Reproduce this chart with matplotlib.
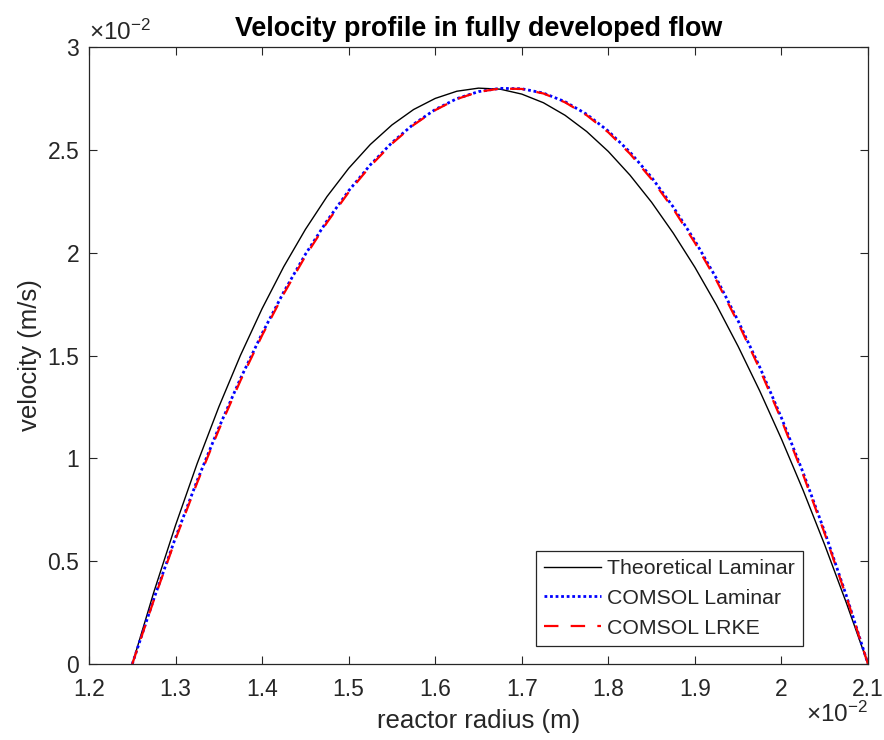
import matplotlib
matplotlib.use("Agg")
import matplotlib.pyplot as plt
from matplotlib.ticker import FuncFormatter, MultipleLocator

# ---- data (radius in m, velocity in m/s) ----
r_theory = [0.01250, 0.01275, 0.01300, 0.01325, 0.01350, 0.01375, 0.01400, 0.01425,
            0.01450, 0.01475, 0.01500, 0.01525, 0.01550, 0.01575, 0.01600, 0.01625,
            0.01650, 0.01675, 0.01700, 0.01725, 0.01750, 0.01775, 0.01800, 0.01825,
            0.01850, 0.01875, 0.01900, 0.01925, 0.01950, 0.01975, 0.02000, 0.02025,
            0.02050, 0.02075, 0.02100]
u_theory = [0.0, 0.351, 0.675, 0.975, 1.250, 1.501, 1.728, 1.932,
            2.113, 2.273, 2.410, 2.526, 2.621, 2.696, 2.750, 2.785,
            2.800, 2.795, 2.771, 2.729, 2.668, 2.589, 2.492, 2.377,
            2.245, 2.095, 1.929, 1.745, 1.544, 1.327, 1.094, 0.845,
            0.579, 0.297, 0.0]
u_theory = [v * 1e-2 for v in u_theory]

r_comsol = r_theory
u_comsol_laminar = [0.0, 0.318, 0.615, 0.892, 1.149, 1.388, 1.607, 1.809,
                    1.992, 2.155, 2.301, 2.427, 2.535, 2.625, 2.696, 2.749,
                    2.783, 2.799, 2.797, 2.776, 2.734, 2.673, 2.591, 2.489,
                    2.366, 2.222, 2.058, 1.874, 1.668, 1.443, 1.197, 0.931,
                    0.642, 0.332, 0.0]
u_comsol_laminar = [v * 1e-2 for v in u_comsol_laminar]
u_comsol_lrke = [0.0, 0.312, 0.607, 0.882, 1.139, 1.378, 1.598, 1.800,
                 1.983, 2.147, 2.294, 2.421, 2.530, 2.621, 2.693, 2.747,
                 2.782, 2.798, 2.796, 2.774, 2.731, 2.668, 2.585, 2.481,
                 2.357, 2.213, 2.048, 1.864, 1.658, 1.433, 1.187, 0.921,
                 0.634, 0.327, 0.0]
u_comsol_lrke = [v * 1e-2 for v in u_comsol_lrke]

labels = ["Theoretical Laminar", "COMSOL Laminar", "COMSOL LRKE"]
title = "Velocity profile in fully developed flow"
xlabel = "reactor radius (m)"
ylabel = "velocity (m/s)"

# ---- style ----
plt.rcParams['font.family'] = ['Liberation Sans', 'DejaVu Sans']
plt.rcParams['mathtext.fontset'] = 'custom'
plt.rcParams['mathtext.rm'] = 'Liberation Sans'
plt.rcParams['mathtext.it'] = 'Liberation Sans:italic'
plt.rcParams['mathtext.bf'] = 'Liberation Sans:bold'

axc = (0.15, 0.15, 0.15)
W, H = 884, 740
fig = plt.figure(figsize=(W / 100, H / 100), dpi=100)
L, R, T, B = 89, 868, 47, 664
ax = fig.add_axes([L / W, 1 - B / H, (R - L) / W, (B - T) / H])

ax.plot(r_theory, u_theory, color='k', lw=1.0, label=labels[0])
ax.plot(r_comsol, u_comsol_laminar, color=(0, 0, 1), lw=2.0, linestyle=(0, (1, 1)),
        label=labels[1])
ax.plot(r_comsol, u_comsol_lrke, color=(1, 0, 0), lw=1.6, linestyle=(0, (6.5, 5.5)),
        label=labels[2])

ax.set_xlim(0.012, 0.021)
ax.set_ylim(0, 0.03)
ax.xaxis.set_major_locator(MultipleLocator(0.001))
ax.yaxis.set_major_locator(MultipleLocator(0.005))
fmt = FuncFormatter(lambda v, p: f"{round(v * 100, 3):g}")
ax.xaxis.set_major_formatter(fmt)
ax.yaxis.set_major_formatter(fmt)

fs_tick = 16.5
ax.tick_params(direction='in', length=6, width=0.8, colors=axc, labelsize=fs_tick,
               top=True, right=True, pad=7)
ax.tick_params(axis='x', pad=10)
for s in ax.spines.values():
    s.set_color(axc)
    s.set_linewidth(0.9)

ax.set_title(title, fontsize=19.4, fontweight='bold', color='k', pad=8)
ax.set_xlabel(xlabel, fontsize=18.5, color=axc, labelpad=6)
ax.set_ylabel(ylabel, fontsize=18.5, color=axc, labelpad=4)

# offset (exponent) texts like MATLAB
fig.text(L / W, 1 - 40 / H, r"$\times\mathregular{10^{-2}}$", fontsize=17.5,
         color=axc, ha='left', va='baseline')
fig.text(R / W, 1 - 722 / H, r"$\times\mathregular{10^{-2}}$", fontsize=17.5,
         color=axc, ha='right', va='baseline')

leg = ax.legend(loc='lower right', bbox_to_anchor=((803 - L) / (R - L), (B - 646) / (B - T)),
                borderaxespad=0, fancybox=False, framealpha=1, edgecolor=axc,
                fontsize=15.3, handlelength=2.65, handletextpad=0.28,
                labelspacing=0.5, borderpad=0.4)
leg.get_frame().set_linewidth(0.9)
for t in leg.get_texts():
    t.set_color(axc)

fig.savefig("out.png", dpi=100)
